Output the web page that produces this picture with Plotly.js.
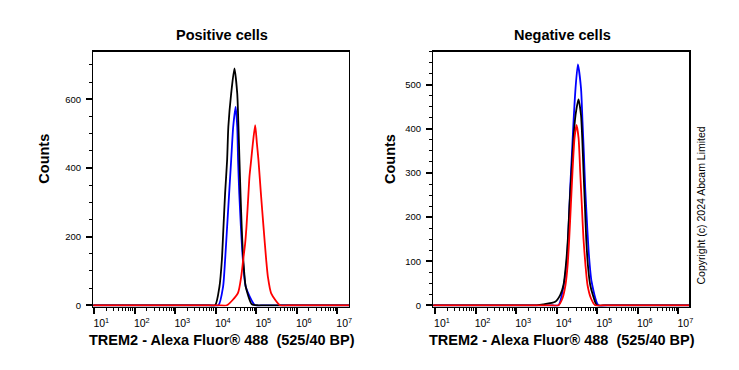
<!DOCTYPE html>
<html>
<head>
<meta charset="utf-8">
<script src="https://cdn.plot.ly/plotly-3.0.1.min.js"></script>
<style>html,body{margin:0;padding:0;background:#fff;}#chart{width:739px;height:370px;}</style>
</head>
<body>
<div id="chart"></div>
<script>
// ---- data (fluorescence intensity, counts) ----
const panelTitles = ["Positive cells", "Negative cells"];
const xTitle = "TREM2 - Alexa Fluor\u00ae 488 \u00a0(525/40 BP)";
const yTitle = "Counts";
const copyrightText = "Copyright (c) 2024 Abcam Limited";
const xTickVals = [10, 100, 1000, 10000, 100000, 1000000, 10000000];
const xTickText = ["10<sup>1</sup>", "10<sup>2</sup>", "10<sup>3</sup>", "10<sup>4</sup>", "10<sup>5</sup>", "10<sup>6</sup>", "10<sup>7</sup>"];

// Positive cells
const posBlueX  = [8, 30, 100, 300, 1000, 3000, 7000, 11640, 15140, 16980, 19050, 21380, 23990, 26920, 30900, 33880, 35480, 38020, 41690, 46770, 54950, 93330, 150000, 300000, 1000000, 3000000, 10000000, 30000000];
const posBlueY  = [0, 0, 0, 0, 0, 0, 0, 0, 54, 132, 229, 326, 423, 520, 578, 520, 423, 326, 229, 132, 54, 0, 0, 0, 0, 0, 0, 0];
const posBlackX = [8, 30, 100, 300, 1000, 3000, 6000, 9640, 12300, 14130, 15490, 16980, 19050, 20420, 23990, 28840, 33880, 36310, 38460, 40740, 43650, 47860, 54950, 77620, 112200, 200000, 500000, 1000000, 3000000, 10000000, 30000000];
const posBlackY = [0, 0, 0, 0, 0, 0, 0, 0, 54, 132, 229, 326, 423, 520, 617, 690, 617, 520, 423, 326, 229, 132, 54, 3, 0, 0, 0, 0, 0, 0, 0];
const posRedX   = [8, 30, 100, 300, 1000, 3000, 7000, 12000, 18750, 35080, 42360, 47420, 53210, 57280, 64120, 67920, 74820, 82410, 93970, 103500, 113200, 130000, 150700, 175800, 193600, 233300, 389000, 700000, 1500000, 4000000, 10000000, 30000000];
const posRedY   = [0, 0, 0, 0, 0, 0, 0, 0, 0, 35, 83, 132, 181, 229, 326, 375, 423, 472, 525, 472, 423, 326, 229, 132, 83, 35, 0, 0, 0, 0, 0, 0];

// Negative cells
const negBlueX  = [8, 30, 100, 300, 1000, 3000, 7000, 11070, 15490, 18200, 19950, 21530, 23710, 26000, 29170, 33340, 39810, 43350, 46990, 50580, 55720, 62370, 72440, 107200, 180000, 400000, 1000000, 3000000, 10000000, 30000000];
const negBlueY  = [0, 0, 0, 0, 0, 0, 0, 0, 54, 114, 190, 265, 341, 416, 492, 546, 492, 416, 341, 265, 190, 114, 54, 0, 0, 0, 0, 0, 0, 0];
const negBlackX = [8, 30, 100, 300, 700, 1500, 3236, 4677, 9183, 12190, 14720, 16870, 18920, 20700, 23230, 26000, 29170, 34510, 39810, 42660, 45920, 49660, 53460, 58880, 67140, 78340, 97720, 160000, 400000, 1000000, 3000000, 10000000, 30000000];
const negBlackY = [0, 0, 0, 0, 0, 0, 0, 2, 8, 23, 46, 91, 152, 227, 303, 379, 431, 467, 431, 379, 303, 227, 152, 91, 46, 23, 0, 0, 0, 0, 0, 0, 0];
const negRedX   = [8, 30, 100, 300, 1000, 3000, 7000, 11070, 13900, 16480, 18620, 20420, 22390, 24550, 27540, 30830, 34670, 38020, 41690, 45710, 51290, 57540, 69820, 89130, 150000, 400000, 1000000, 3000000, 10000000, 30000000];
const negRedY   = [0, 0, 0, 0, 0, 0, 0, 0, 16, 46, 91, 152, 227, 303, 379, 409, 379, 303, 227, 152, 91, 46, 16, 0, 0, 0, 0, 0, 0, 0];

const colBlue = "#0000ff", colBlack = "#000000", colRed = "#ff0000";
const FONT = "Arial, 'Liberation Sans', sans-serif";

function line(x, y, color, xa, ya) {
  return {x: x, y: y, type: "scatter", mode: "lines", xaxis: xa, yaxis: ya,
          line: {color: color, width: 1.8, shape: "spline", smoothing: 0.6},
          hoverinfo: "skip", showlegend: false};
}

const data = [
  line(posBlueX, posBlueY, colBlue, "x", "y"),
  line(posBlackX, posBlackY, colBlack, "x", "y"),
  line(posRedX, posRedY, colRed, "x", "y"),
  line(negBlueX, negBlueY, colBlue, "x2", "y2"),
  line(negBlackX, negBlackY, colBlack, "x2", "y2"),
  line(negRedX, negRedY, colRed, "x2", "y2")
];

const W = 739, H = 370;
function xAxis(l, r, range, anchor) {
  return {type: "log", domain: [l / W, r / W], range: range, anchor: anchor,
          showline: true, mirror: true, linecolor: "#000", linewidth: 1.3,
          showgrid: false, zeroline: false,
          tickmode: "array", tickvals: xTickVals, ticktext: xTickText,
          ticks: "outside", ticklen: 6, tickwidth: 2, tickcolor: "#000",
          ticklabelshift: 7, ticklabelstandoff: 1,
          tickfont: {family: FONT, size: 10.5, color: "#000"},
          minor: {dtick: "D1", ticks: "outside", ticklen: 3, tickwidth: 1, tickcolor: "#000", showgrid: false}};
}
function yAxis(range, dtick, minorDtick, anchor) {
  return {domain: [1 - 306.5 / H, 1 - 51.7 / H], range: range, anchor: anchor,
          showline: true, mirror: true, linecolor: "#000", linewidth: 1.3,
          showgrid: false, zeroline: false,
          tickmode: "linear", tick0: 0, dtick: dtick,
          ticks: "outside", ticklen: 6, tickwidth: 2, tickcolor: "#000",
          ticklabelstandoff: 3,
          tickfont: {family: FONT, size: 9.5, color: "#000"},
          minor: {tick0: 0, dtick: minorDtick, ticks: "outside", ticklen: 3, tickwidth: 1, tickcolor: "#000", showgrid: false}};
}

function ann(text, x, y, size, bold, angle) {
  return {text: bold ? "<b>" + text + "</b>" : text, xref: "paper", yref: "paper",
          x: x / W, y: 1 - y / H, xanchor: "center", yanchor: "middle", showarrow: false,
          textangle: angle || 0, font: {family: FONT, size: size, color: "#000"}};
}

const layout = {
  width: W, height: H,
  margin: {l: 0, r: 0, t: 0, b: 0},
  paper_bgcolor: "#fff", plot_bgcolor: "#fff",
  showlegend: false,
  xaxis: xAxis(93.3, 349, [0.975, 7.29], "y"),
  yaxis: yAxis([-3.5, 738.7], 200, 50, "x"),
  xaxis2: xAxis(433.3, 689.3, [0.958, 7.27], "y2"),
  yaxis2: yAxis([-2.7, 575], 100, 25, "x2"),
  annotations: [
    ann(panelTitles[0], 221.5, 35, 14.5, true),
    ann(panelTitles[1], 562.5, 35, 14.5, true),
    ann(xTitle, 221.5, 340, 14.5, true),
    ann(xTitle, 561.5, 340, 14.5, true),
    ann(yTitle, 43.7, 159, 14.5, true, -90),
    ann(yTitle, 390.5, 159.5, 14.5, true, -90),
    ann(copyrightText, 700.7, 205.8, 10.5, false, -90)
  ]
};

Plotly.newPlot("chart", data, layout, {staticPlot: true, displayModeBar: false});
</script>
</body>
</html>
